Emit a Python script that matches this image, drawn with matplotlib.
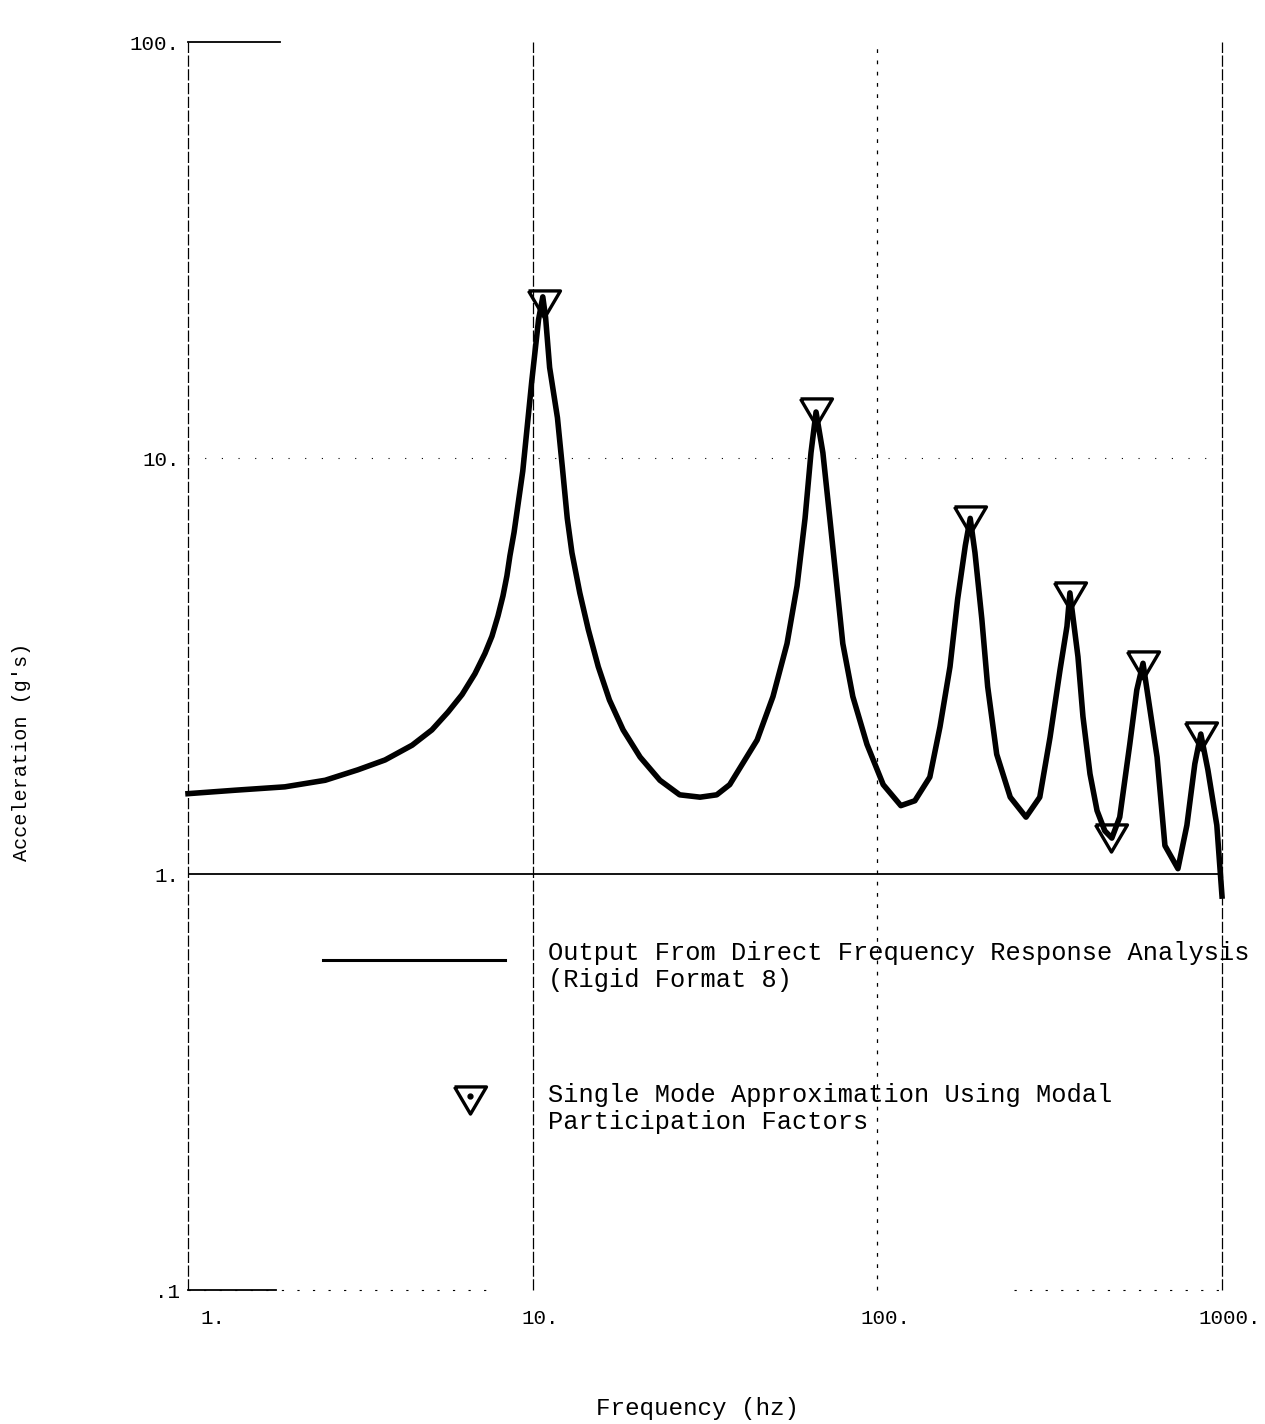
import numpy as np
import matplotlib
matplotlib.use("Agg")
import matplotlib.pyplot as plt
from matplotlib.transforms import ScaledTranslation

# curve (frequency in hz, acceleration in g's)
freq = [1.0, 1.37, 1.91, 2.50, 3.11, 3.73, 4.47, 5.10, 5.68, 6.24, 6.80, 7.27,
        7.62, 7.93, 8.20, 8.42, 8.59, 8.83, 9.36, 9.94, 10.4, 10.7,
        10.9, 11.2, 11.8, 12.2, 12.6, 13.0, 13.7, 14.5, 15.5, 16.7, 18.3,
        20.5, 23.4, 26.7, 30.6, 34.2, 37.3,
        44.8, 49.8, 54.7, 58.5, 61.7, 64.2, 66.4, 69.5, 72.8, 76.3, 79.4,
        84.9, 93.3, 104, 117, 128.5, 142, 152, 162.5, 171, 180, 186, 192,
        201, 209, 222, 243, 270, 296, 317, 339, 355, 362, 382, 395, 414,
        434, 457, 479, 505, 540, 566, 590, 610, 648, 683, 745, 791, 834,
        868, 910, 966, 1000]
accel = [1.56, 1.59, 1.62, 1.68, 1.78, 1.88, 2.04, 2.22, 2.45, 2.70, 3.03, 3.39,
         3.73, 4.17, 4.66, 5.21, 5.82, 6.62, 9.3, 15.3, 21.5, 24.4,
         21.8, 16.5, 12.5, 9.46, 7.16, 5.92, 4.74, 3.87, 3.15, 2.62, 2.22,
         1.91, 1.68, 1.55, 1.53, 1.55, 1.64,
         2.10, 2.67, 3.58, 4.93, 7.16, 10.3, 12.9, 10.3, 7.16, 4.93, 3.58,
         2.67, 2.05, 1.64, 1.46, 1.50, 1.71, 2.26, 3.15, 4.58, 6.16, 7.16, 5.92,
         4.10, 2.82, 1.94, 1.53, 1.37, 1.53, 2.13, 3.10, 3.94, 4.74, 3.33, 2.39, 1.74,
         1.42, 1.27, 1.22, 1.37, 2.05, 2.77, 3.21, 2.67, 1.91, 1.17, 1.03, 1.31, 1.84,
         2.17, 1.78, 1.31, 0.885]

# single mode approximation points
mode_freq = [10.8, 66.4, 186, 362, 475, 590, 868]
mode_accel = [23.5, 12.9, 7.1, 4.65, 1.22, 3.18, 2.15]

xticks = [1, 10, 100, 1000]
xticklabels = ["1.", "10.", "100.", "1000."]
yticks = [0.1, 1, 10, 100]
yticklabels = [".1", "1.", "10.", "100."]

plt.rcParams["font.family"] = ["Liberation Mono", "DejaVu Sans Mono"]

W, H = 1265, 1424
fig = plt.figure(figsize=(W / 100, H / 100), dpi=100)
ax = fig.add_axes([188 / W, 1 - 1290 / H, (1222 - 188) / W, (1290 - 42) / H])
ax.set_xscale("log")
ax.set_yscale("log")
ax.set_xlim(1, 1000)
ax.set_ylim(0.1, 100)
for s in ax.spines.values():
    s.set_visible(False)

# scanned-looking grid
for xv in xticks:
    ls = (0, (3, 6)) if xv == 100 else (0, (9, 2))
    ax.axvline(xv, color="black", lw=0.9, ls=ls, zorder=1, clip_on=False)
ax.axhline(1, color="black", lw=1.3, zorder=1)
ax.axhline(10, color="black", lw=0.8, ls=(0, (1, 14)), zorder=1)
ax.plot([1, 7.5], [0.1, 0.1], color="black", lw=0.8, ls=(0, (2, 12)), zorder=1, clip_on=False)
ax.plot([250, 1000], [0.1, 0.1], color="black", lw=0.8, ls=(0, (2, 12)), zorder=1, clip_on=False)
ax.plot([1, 1.85], [100, 100], color="black", lw=1.3, zorder=1, clip_on=False)
ax.plot([1, 1.8], [0.1, 0.1], color="black", lw=1.3, zorder=1, clip_on=False)

# wide, flat triangle like the hand-drawn symbol
tri = [(-1, 0.85), (1, 0.85), (0, -0.85), (-1, 0.85)]

ax.plot(freq, accel, color="black", lw=4.0, solid_joinstyle="round", zorder=3,
        clip_on=False)
ax.plot(mode_freq, mode_accel, ls="none", marker=tri, ms=23, mfc="none",
        mec="black", mew=2.4, zorder=4)

ax.set_xticks(xticks)
ax.set_xticklabels(xticklabels)
ax.set_yticks(yticks)
ax.set_yticklabels(yticklabels)
ax.minorticks_off()
ax.tick_params(axis="both", length=0, labelsize=15)
ax.tick_params(axis="x", pad=14)
ax.tick_params(axis="y", pad=6)
for i, lab in enumerate(ax.get_xticklabels()):
    dx = 12 if i == 0 else 8
    if i == 0:
        lab.set_ha("left")
    lab.set_transform(lab.get_transform() + ScaledTranslation(dx / 100, 0, fig.dpi_scale_trans))

fig.text(697 / W, 1 - 1408 / H, "Frequency (hz)", ha="center", va="center", fontsize=17.5)
fig.text(22 / W, 1 - 752 / H, "Acceleration (g's)", ha="center", va="center",
         rotation=90, fontsize=14.5)

# legend drawn inside the plot area, like the original
ax.plot([2.46, 8.3], [0.62, 0.62], color="black", lw=2.2, zorder=3)
ax.plot([6.6], [0.287], ls="none", marker=tri, ms=23, mfc="none", mec="black", mew=2.4)
ax.plot([6.6], [0.293], ls="none", marker="o", ms=3.5, color="black")
fig.text(548 / W, 1 - 941 / H, "Output From Direct Frequency Response Analysis\n(Rigid Format 8)",
         ha="left", va="top", fontsize=18.3, linespacing=1.17)
fig.text(548 / W, 1 - 1083 / H, "Single Mode Approximation Using Modal\nParticipation Factors",
         ha="left", va="top", fontsize=18.3, linespacing=1.17)

fig.savefig("out.png", dpi=100)
